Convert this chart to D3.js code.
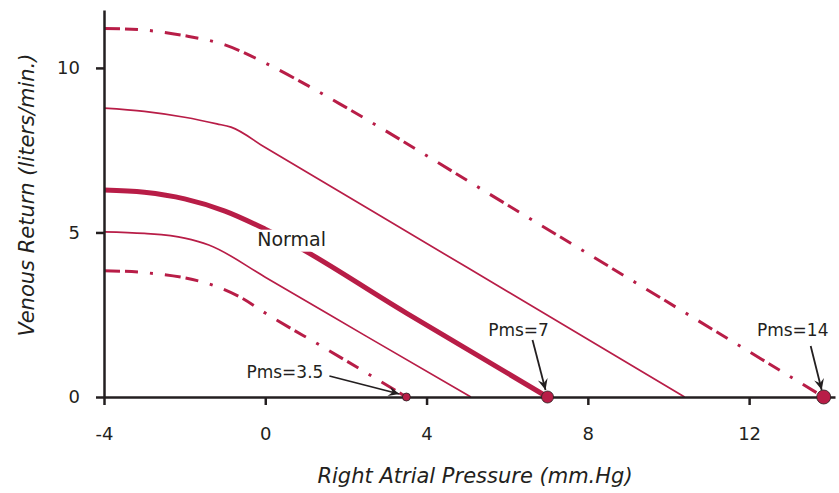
<!DOCTYPE html>
<html>
<head>
<meta charset="utf-8">
<script src="https://cdn.jsdelivr.net/npm/d3@7"></script>
<style>
  body { margin: 0; background: #fff; }
  text { font-family: "DejaVu Sans", Verdana, sans-serif; fill: #231f20; }
</style>
</head>
<body>
<div id="chart"></div>
<script>
// data: [right atrial pressure, venous return]
const xTicks = [-4, 0, 4, 8, 12];
const yTicks = [0, 5, 10];

const curvePms14 = [[-4, 11.2], [-3, 11.15], [-2, 10.98], [-1, 10.7], [0, 10.15], [1, 9.5], [2, 8.8], [6, 5.84], [13.85, 0]];
const curveHigh = [[-4, 8.78], [-3, 8.68], [-2, 8.5], [-1.2, 8.3], [-0.85, 8.2], [0, 7.58], [5, 3.94], [10.4, 0]];
const curveNormal = [[-4, 6.29], [-3, 6.22], [-2, 6.02], [-1, 5.65], [0, 5.1], [3.5, 2.55], [7, 0]];
const curveLow = [[-4, 5.02], [-3, 4.97], [-2, 4.83], [-1.4, 4.62], [0, 3.64], [2.5, 1.85], [5.1, 0]];
const curvePms35 = [[-4, 3.84], [-3, 3.78], [-2, 3.62], [-1.3, 3.4], [-0.6, 3.02], [0, 2.55], [1.5, 1.47], [3.5, 0]];

const pmsValues = [3.5, 7, 13.85];
const pmsLabels = ["Pms=3.5", "Pms=7", "Pms=14"];

const width = 839;
const height = 493;
const red = "#b81d47";
const ink = "#231f20";

const svg = d3
  .select("#chart")
  .append("svg")
  .attr("width", width)
  .attr("height", height);

const x = d3.scaleLinear().domain([-4, 14.13]).range([104, 835]);
const y = d3.scaleLinear().domain([0, 11.76]).range([397, 10]);

// arrow head for the annotations
svg
  .append("defs")
  .append("marker")
  .attr("id", "dart")
  .attr("viewBox", "-12 -6 14 12")
  .attr("refX", 0)
  .attr("refY", 0)
  .attr("markerWidth", 14)
  .attr("markerHeight", 12)
  .attr("markerUnits", "userSpaceOnUse")
  .attr("orient", "auto")
  .append("path")
  .attr("d", "M0,0 L-11,-5 L-7,0 L-11,5 Z")
  .attr("fill", ink);

const line = d3
  .line()
  .x((d) => x(d[0]))
  .y((d) => y(d[1]))
  .curve(d3.curveMonotoneX);

//////////// curves ////////////
const dashPattern = "16,5,13,12,3,12";

svg.append("path").datum(curvePms14)
  .attr("d", line).attr("fill", "none").attr("stroke", red)
  .attr("stroke-width", 3).attr("stroke-dasharray", dashPattern);

svg.append("path").datum(curveHigh)
  .attr("d", line).attr("fill", "none").attr("stroke", red)
  .attr("stroke-width", 1.7);

svg.append("path").datum(curveNormal)
  .attr("d", line).attr("fill", "none").attr("stroke", red)
  .attr("stroke-width", 5);

svg.append("path").datum(curveLow)
  .attr("d", line).attr("fill", "none").attr("stroke", red)
  .attr("stroke-width", 1.7);

svg.append("path").datum(curvePms35)
  .attr("d", line).attr("fill", "none").attr("stroke", red)
  .attr("stroke-width", 3).attr("stroke-dasharray", dashPattern);

// "Normal" label sits on a white patch that cuts the thick line
const normalLabel = svg.append("g").attr("transform", `translate(${x(-0.2)},${y(4.75)})`);
normalLabel.append("rect")
  .attr("x", -2).attr("y", -11).attr("width", 72).attr("height", 22)
  .attr("fill", "#fff");
normalLabel.append("text")
  .attr("x", 0).attr("y", 5)
  .style("font-size", "19px")
  .text("Normal");

//////////// axes ////////////
const yAxis = svg
  .append("g")
  .attr("transform", `translate(${x(-4)},0)`)
  .call(d3.axisLeft(y).tickValues(yTicks).tickFormat((d) => d.toString())
    .tickSize(8).tickSizeOuter(0).tickPadding(16));

const xAxis = svg
  .append("g")
  .attr("transform", `translate(0,${y(0)})`)
  .call(d3.axisBottom(x).tickValues(xTicks).tickFormat((d) => d.toString())
    .tickSize(8).tickSizeOuter(0).tickPadding(22));

[yAxis, xAxis].forEach((g) => {
  g.select(".domain").attr("stroke", ink).attr("stroke-width", 2.5);
  g.selectAll(".tick line").attr("stroke", ink).attr("stroke-width", 2.5);
  g.selectAll(".tick text")
    .style("font-family", "'DejaVu Sans', Verdana, sans-serif")
    .style("font-size", "18px")
    .attr("fill", ink);
});

svg.append("text")
  .attr("transform", "translate(34,195) rotate(-90)")
  .attr("text-anchor", "middle")
  .style("font-size", "21px")
  .style("font-style", "italic")
  .text("Venous Return (liters/min.)");

svg.append("text")
  .attr("x", 475)
  .attr("y", 483)
  .attr("text-anchor", "middle")
  .style("font-size", "21px")
  .style("font-style", "italic")
  .text("Right Atrial Pressure (mm.Hg)");

//////////// Pms points and arrows ////////////
// offsets of label and arrow from each point, in pixels
const notes = [
  { anchor: "end", tx: -83, ty: -19, ax: -77, ay: -21, bx: -7, by: -3, r: 4 },
  { anchor: "middle", tx: -29, ty: -61, ax: -15, ay: -57, bx: -2, by: -7, r: 6 },
  { anchor: "middle", tx: -31, ty: -61, ax: -13, ay: -51, bx: -2, by: -7, r: 7 },
];

pmsValues.forEach((v, i) => {
  const px = x(v);
  const py = y(0);
  const n = notes[i];

  svg.append("circle")
    .attr("cx", px).attr("cy", py).attr("r", n.r)
    .attr("fill", red).attr("stroke", ink).attr("stroke-width", 0.8);

  svg.append("line")
    .attr("x1", px + n.ax).attr("y1", py + n.ay)
    .attr("x2", px + n.bx).attr("y2", py + n.by)
    .attr("stroke", ink).attr("stroke-width", 1.8)
    .attr("marker-end", "url(#dart)");

  svg.append("text")
    .attr("x", px + n.tx).attr("y", py + n.ty)
    .attr("text-anchor", n.anchor)
    .style("font-size", "17px")
    .text(pmsLabels[i]);
});
</script>
</body>
</html>
